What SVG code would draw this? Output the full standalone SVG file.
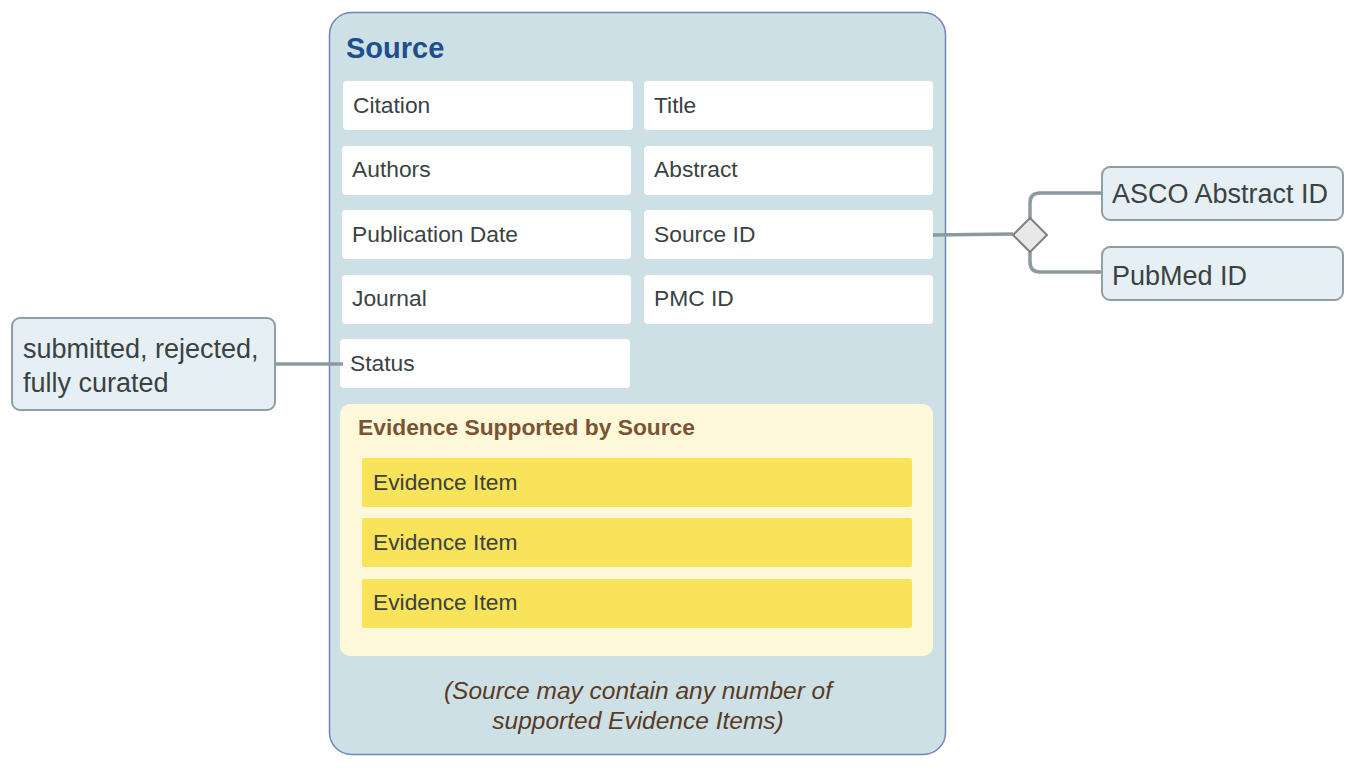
<svg xmlns="http://www.w3.org/2000/svg" width="1356" height="768" viewBox="0 0 1356 768">
<style>
.field{fill:#ffffff;}
.ft{font-family:"Liberation Sans",Arial,sans-serif;font-size:22.8px;fill:#3a4242;}
.ev{fill:#f8e35a;}
.side{fill:#e6eff3;stroke:#8e9ea4;stroke-width:2;}
.st{font-family:"Liberation Sans",Arial,sans-serif;font-size:27px;fill:#3a4242;}
.conn{fill:none;stroke:#8a9a9e;stroke-width:3.5;}
</style>
<rect width="1356" height="768" fill="#ffffff"/>
<g id="source">
<rect x="329.5" y="12.5" width="616" height="742" rx="22" fill="#cce0e6" stroke="#6e86b8" stroke-width="1.5"/>
<text x="346" y="58" font-family="Liberation Sans,Arial,sans-serif" font-size="29" font-weight="bold" fill="#1f4e8c">Source</text>
</g>
<g id="citation"><rect class="field" x="343" y="81" width="290" height="49" rx="4"/><text class="ft" x="353" y="113">Citation</text></g>
<g id="title"><rect class="field" x="644" y="81" width="289" height="49" rx="4"/><text class="ft" x="654" y="113">Title</text></g>
<g id="authors"><rect class="field" x="342" y="146" width="289" height="49" rx="4"/><text class="ft" x="352" y="177">Authors</text></g>
<g id="abstract"><rect class="field" x="644" y="146" width="289" height="49" rx="4"/><text class="ft" x="654" y="177">Abstract</text></g>
<g id="pubdate"><rect class="field" x="342" y="210" width="289" height="49" rx="4"/><text class="ft" x="352" y="242">Publication Date</text></g>
<g id="sourceid"><rect class="field" x="644" y="210" width="289" height="49" rx="4"/><text class="ft" x="654" y="242">Source ID</text></g>
<g id="journal"><rect class="field" x="342" y="275" width="289" height="49" rx="4"/><text class="ft" x="352" y="306">Journal</text></g>
<g id="pmcid"><rect class="field" x="644" y="275" width="289" height="49" rx="4"/><text class="ft" x="654" y="306">PMC ID</text></g>
<g id="status"><rect class="field" x="340" y="339" width="290" height="49" rx="4"/><text class="ft" x="350" y="371">Status</text></g>
<g id="evidence-group">
<rect x="340" y="404" width="593" height="252" rx="10" fill="#fef8db"/>
<text x="358" y="435" font-family="Liberation Sans,Arial,sans-serif" font-size="22.8" font-weight="bold" fill="#7a5430">Evidence Supported by Source</text>
</g>
<g id="evidence1"><rect class="ev" x="362" y="458" width="550" height="49" rx="2"/><text class="ft" x="373" y="490">Evidence Item</text></g>
<g id="evidence2"><rect class="ev" x="362" y="518" width="550" height="49" rx="2"/><text class="ft" x="373" y="550">Evidence Item</text></g>
<g id="evidence3"><rect class="ev" x="362" y="579" width="550" height="49" rx="2"/><text class="ft" x="373" y="610">Evidence Item</text></g>
<g id="footer">
<text font-family="Liberation Sans,Arial,sans-serif" font-size="24.5" font-style="italic" fill="#5a3a22" text-anchor="middle"><tspan x="638" y="699">(Source may contain any number of</tspan><tspan x="638" y="729">supported Evidence Items)</tspan></text>
</g>
<g id="connectors">
<path class="conn" d="M933 235 L1013 234"/>
<path class="conn" d="M1030 218 L1030 203 Q1030 193 1040 193 L1102 193"/>
<path class="conn" d="M1030 252 L1030 262 Q1030 272 1040 272 L1102 272"/>
<path class="conn" d="M275 364 L343 364"/>
</g>
<g id="xor">
<polygon points="1030,218 1047,235 1030,252 1013,235" fill="#e8e8e8" stroke="#808080" stroke-width="2"/>
</g>
<g id="asco"><rect class="side" x="1102" y="167" width="241" height="53" rx="8"/><text class="st" x="1112" y="203">ASCO Abstract ID</text></g>
<g id="pubmed"><rect class="side" x="1102" y="247" width="241" height="53" rx="8"/><text class="st" x="1112" y="285">PubMed ID</text></g>
<g id="status-values"><rect class="side" x="12" y="318" width="263" height="92" rx="8"/><text class="st"><tspan x="23" y="358">submitted, rejected,</tspan><tspan x="23" y="392">fully curated</tspan></text></g>
</svg>
